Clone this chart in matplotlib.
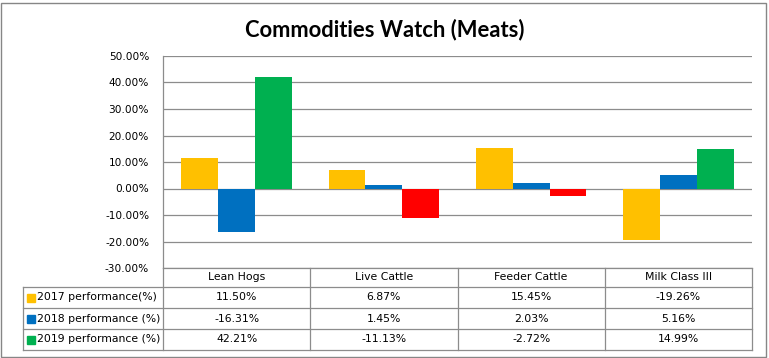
import matplotlib.pyplot as plt
import numpy as np
from matplotlib.patches import Rectangle
from matplotlib.lines import Line2D

categories = ["Lean Hogs", "Live Cattle", "Feeder Cattle", "Milk Class III"]
series_names = ["2017 performance(%)", "2018 performance (%)", "2019 performance (%)"]
perf_2017 = [11.50, 6.87, 15.45, -19.26]
perf_2018 = [-16.31, 1.45, 2.03, 5.16]
perf_2019 = [42.21, -11.13, -2.72, 14.99]
yticks = [-30, -20, -10, 0, 10, 20, 30, 40, 50]

colors = ["#FFC000", "#0070C0", "#00B050"]
neg_2019 = "#FF0000"
grid_c = "#8C8C8C"

W, H = 769, 358
fig = plt.figure(figsize=(W / 100, H / 100), dpi=100)
fig.patch.set_facecolor("white")

# plot area in pixels
x0, x1, y0, y1 = 163, 752, 56, 268
ax = fig.add_axes([x0 / W, 1 - y1 / H, (x1 - x0) / W, (y1 - y0) / H])

x = np.arange(len(categories))
w = 0.25
all_series = [perf_2017, perf_2018, perf_2019]
for i, vals in enumerate(all_series):
    cols = [colors[i]] * len(vals)
    if i == 2:
        cols = [neg_2019 if v < 0 else colors[i] for v in vals]
    ax.bar(x + (i - 1) * w, vals, width=w, color=cols, zorder=3)

ax.set_xlim(-0.5, 3.5)
ax.set_ylim(-30, 50)
ax.set_yticks(yticks)
ax.set_yticklabels([f"{v:.2f}%" for v in yticks], fontsize=7.6, family="DejaVu Sans")
ax.tick_params(axis="y", length=0, pad=10)
ax.set_xticks([])
for s in ["top", "right", "bottom"]:
    ax.spines[s].set_visible(False)
ax.spines["left"].set_color(grid_c)
ax.spines["left"].set_linewidth(0.9)
ax.grid(axis="y", color=grid_c, linewidth=0.9, zorder=0)

fig.text(0.5, 1 - 30 / H, "Commodities Watch (Meats)", ha="center", va="center",
         fontsize=15.8, fontweight="bold", family="Lato")

# data table below the axis
ph = y1 - y0
pw = x1 - x0
header_h, row_h = 19, 21
lab_left = -(x0 - 23) / pw
tr = ax.transAxes
fs = 7.8


def fy(px):
    return -px / ph


def hline(xa, xb, yv):
    ax.add_line(Line2D([xa, xb], [yv, yv], transform=tr, color=grid_c, lw=0.9, clip_on=False))


def vline(xv, ya, yb):
    ax.add_line(Line2D([xv, xv], [ya, yb], transform=tr, color=grid_c, lw=0.9, clip_on=False))


bottom = fy(header_h + 3 * row_h)
hline(0, 1, 0)
for k in range(0, 4):
    hline(lab_left, 1, fy(header_h + k * row_h))
for j in range(5):
    vline(j / 4, 0, bottom)
vline(lab_left, fy(header_h), bottom)

for j, c in enumerate(categories):
    ax.text((j + 0.5) / 4, fy(header_h / 2), c, transform=tr, ha="center", va="center",
            fontsize=fs, family="DejaVu Sans")

for k, (name, vals) in enumerate(zip(series_names, all_series)):
    yc = fy(header_h + k * row_h + row_h / 2)
    ax.add_patch(Rectangle((lab_left + 4 / pw, yc - 4 / ph), 8 / pw, 8 / ph, transform=tr,
                           color=colors[k], clip_on=False))
    ax.text(lab_left + 14 / pw, yc, name, transform=tr, ha="left", va="center",
            fontsize=fs, family="DejaVu Sans")
    for j, v in enumerate(vals):
        ax.text((j + 0.5) / 4, yc, f"{v:.2f}%", transform=tr, ha="center", va="center",
                fontsize=fs, family="DejaVu Sans")

# outer chart border
fig.add_artist(Rectangle((1 / W, 1 / H), (W - 4) / W, (H - 4) / H, transform=fig.transFigure,
                         fill=False, edgecolor="#868686", lw=1))

fig.savefig("out.png", dpi=100)
